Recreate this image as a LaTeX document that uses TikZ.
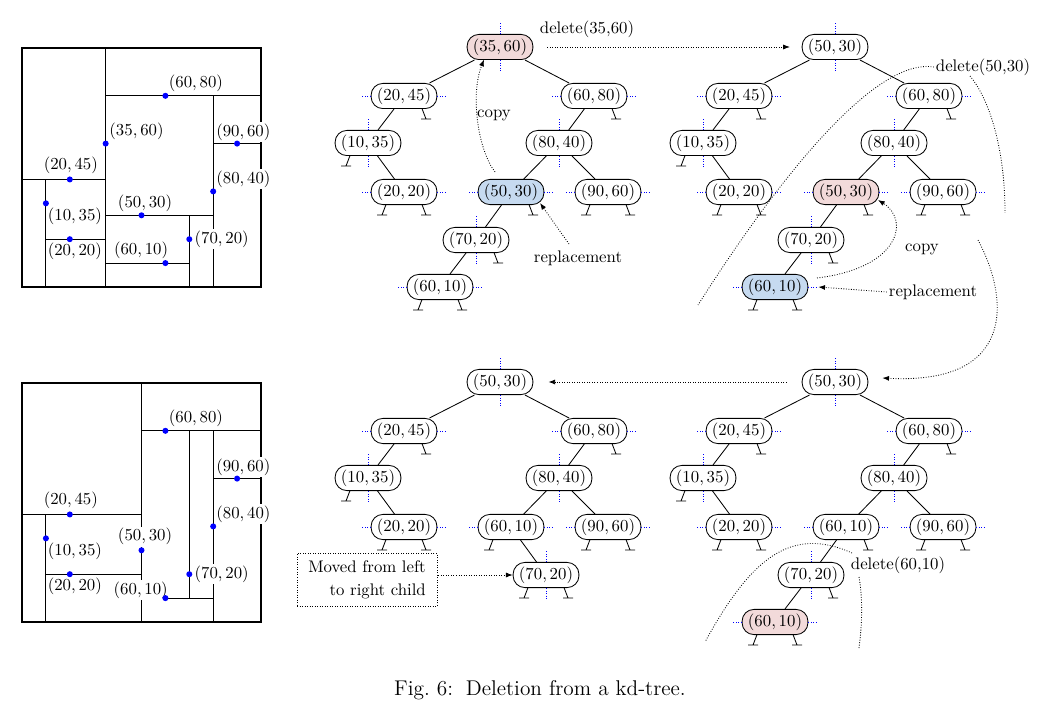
\documentclass[tikz,border=0pt]{standalone}
\usetikzlibrary{arrows.meta}
\definecolor{delpink}{RGB}{242,218,218}
\definecolor{repblue}{RGB}{198,218,240}
\tikzset{
 tn/.style={draw, line width=0.5pt, rounded corners=7pt, inner xsep=3.5pt, inner ysep=2.5pt, minimum height=15pt, fill=white},
 delnode/.style={tn, fill=delpink},
 repnode/.style={tn, fill=repblue},
 tedge/.style={line width=0.5pt},
 spl/.style={blue, densely dotted, line width=0.5pt},
 ann/.style={densely dotted, line width=0.5pt},
 annarr/.style={ann, -{Latex[length=4pt,width=3pt]}},
 txt/.style={inner sep=1pt},
 plab/.style={fill=white, inner xsep=0pt, inner ysep=1pt},
 pline/.style={line width=0.5pt},
 pframe/.style={line width=1.2pt},
 pdot/.style={fill=blue},
}
\newcommand\splitV[1]{\draw[spl] (#1.north) -- ++(0,-12) (#1.south) -- ++(0,12);}
\newcommand\splitH[1]{\draw[spl] (#1.west) -- ++(-9,0) (#1.east) -- ++(9,0);}
\newcommand\legL[1]{\draw[tedge] ([shift={(-18,12.6)}]#1.center) -- ([shift={(-22,23)}]#1.center) ([shift={(-27,23)}]#1.center) -- ([shift={(-17,23)}]#1.center);}
\newcommand\legR[1]{\draw[tedge] ([shift={(18,12.6)}]#1.center) -- ([shift={(22,23)}]#1.center) ([shift={(17,23)}]#1.center) -- ([shift={(27,23)}]#1.center);}
% #1 prefix, #2 x, #3 y, #4 root text, #5 root style, #6 f text, #7 f style, #8 i style
\newcommand\kdtree[8]{%
\begin{scope}[shift={(#2,#3)}]
 \node[#5] (#1r) at (0,0) {$#4$};
 \node[tn] (#1a) at (-96,49) {$(20,45)$};
 \node[tn] (#1b) at (94,49) {$(60,80)$};
 \node[tn] (#1c) at (-132,96) {$(10,35)$};
 \node[tn] (#1d) at (59,96) {$(80,40)$};
 \node[tn] (#1e) at (-96,145) {$(20,20)$};
 \node[#7] (#1f) at (11,145) {$#6$};
 \node[tn] (#1g) at (108,145) {$(90,60)$};
 \node[tn] (#1h) at (-24,193) {$(70,20)$};
 \node[#8] (#1i) at (-60,240) {$(60,10)$};
\end{scope}
\draw[tedge] (#1r)--(#1a) (#1r)--(#1b) (#1a)--(#1c) (#1c)--(#1e) (#1b)--(#1d) (#1d)--(#1f) (#1d)--(#1g) (#1f)--(#1h) (#1h)--(#1i);
\splitV{#1r}\splitV{#1c}\splitV{#1d}\splitV{#1h}
\splitH{#1a}\splitH{#1b}\splitH{#1e}\splitH{#1f}\splitH{#1g}\splitH{#1i}
\legR{#1a}\legR{#1b}\legL{#1c}\legL{#1e}\legR{#1e}\legR{#1f}\legL{#1g}\legR{#1g}\legR{#1h}\legL{#1i}\legR{#1i}
}
\begin{document}
\begin{tikzpicture}[x=0.596pt,y=-0.596pt]
\useasboundingbox (0,0) rectangle (1044,710);

% ---------- top partition ----------
\begin{scope}[shift={(22,287)}, x=1.4244pt, y=1.4244pt]
 \draw[pline] (35,0) -- (35,100) (0,45) -- (35,45) (10,0) -- (10,45) (10,20) -- (35,20)
   (35,80) -- (100,80) (80,0) -- (80,80) (80,60) -- (100,60) (35,30) -- (80,30)
   (70,0) -- (70,30) (35,10) -- (70,10);
 \draw[pframe] (0,0) rectangle (100,100);
 \node[plab] (pa1) at ([shift={(18.4pt,7.2pt)}]35,60) {$(35,60)$};
 \node[plab] (pa2) at ([shift={(0.6pt,8.6pt)}]20,45) {$(20,45)$};
 \node[plab] (pa3) at ([shift={(18.2pt,7.5pt)}]60,80) {$(60,80)$};
 \node[plab] (pa4) at ([shift={(17.3pt,-8pt)}]10,35) {$(10,35)$};
 \node[plab] (pa5) at ([shift={(18pt,7.2pt)}]80,40) {$(80,40)$};
 \node[plab] (pa6) at ([shift={(3pt,-7.5pt)}]20,20) {$(20,20)$};
 \node[plab] (pa7) at ([shift={(2.1pt,7.4pt)}]50,30) {$(50,30)$};
 \node[plab] (pa8) at ([shift={(3.7pt,7pt)}]90,60) {$(90,60)$};
 \node[plab] (pa9) at ([shift={(-14.5pt,7.8pt)}]60,10) {$(60,10)$};
 \node[plab] (pa10) at ([shift={(19.3pt,0pt)}]70,20) {$(70,20)$};
 \foreach \p in {(35,60),(20,45),(60,80),(10,35),(80,40),(20,20),(50,30),(90,60),(60,10),(70,20)}
   \fill[pdot] \p circle[radius=1.8pt];
\end{scope}

% ---------- bottom partition ----------
\begin{scope}[shift={(22,622)}, x=1.4244pt, y=1.4244pt]
 \draw[pline] (50,0) -- (50,100) (0,45) -- (50,45) (10,0) -- (10,45) (10,20) -- (50,20)
   (50,80) -- (100,80) (80,0) -- (80,80) (80,60) -- (100,60) (50,10) -- (80,10)
   (70,10) -- (70,80);
 \draw[pframe] (0,0) rectangle (100,100);
 \node[plab] (pb2) at ([shift={(0.6pt,8.6pt)}]20,45) {$(20,45)$};
 \node[plab] (pb3) at ([shift={(18.2pt,7.5pt)}]60,80) {$(60,80)$};
 \node[plab] (pb4) at ([shift={(17.3pt,-8pt)}]10,35) {$(10,35)$};
 \node[plab] (pb5) at ([shift={(18pt,7.2pt)}]80,40) {$(80,40)$};
 \node[plab] (pb6) at ([shift={(3pt,-7.5pt)}]20,20) {$(20,20)$};
 \node[plab] (pb7) at ([shift={(2.1pt,8.1pt)}]50,30) {$(50,30)$};
 \node[plab] (pb8) at ([shift={(3.7pt,7pt)}]90,60) {$(90,60)$};
 \node[plab] (pb9) at ([shift={(-14.7pt,4.8pt)}]60,10) {$(60,10)$};
 \node[plab] (pb10) at ([shift={(19.3pt,0pt)}]70,20) {$(70,20)$};
 \foreach \p in {(20,45),(60,80),(10,35),(80,40),(20,20),(50,30),(90,60),(60,10),(70,20)}
   \fill[pdot] \p circle[radius=1.8pt];
\end{scope}

% ---------- trees ----------
\kdtree{ta}{500}{47}{(35,60)}{delnode}{(50,30)}{repnode}{tn}
\kdtree{tb}{835}{47}{(50,30)}{tn}{(50,30)}{delnode}{repnode}
\kdtree{td}{835}{382}{(50,30)}{tn}{(60,10)}{tn}{delnode}

% bottom-left tree
\begin{scope}[shift={(500,382)}]
 \node[tn] (tcr) at (0,0) {$(50,30)$};
 \node[tn] (tca) at (-96,49) {$(20,45)$};
 \node[tn] (tcb) at (94,49) {$(60,80)$};
 \node[tn] (tcc) at (-132,96) {$(10,35)$};
 \node[tn] (tcd) at (59,96) {$(80,40)$};
 \node[tn] (tce) at (-96,145) {$(20,20)$};
 \node[tn] (tcf) at (11,145) {$(60,10)$};
 \node[tn] (tcg) at (108,145) {$(90,60)$};
 \node[tn] (tch) at (46,193) {$(70,20)$};
\end{scope}
\draw[tedge] (tcr)--(tca) (tcr)--(tcb) (tca)--(tcc) (tcc)--(tce) (tcb)--(tcd) (tcd)--(tcf) (tcd)--(tcg) (tcf)--(tch);
\splitV{tcr}\splitV{tcc}\splitV{tcd}\splitV{tch}
\splitH{tca}\splitH{tcb}\splitH{tce}\splitH{tcf}\splitH{tcg}
\legR{tca}\legR{tcb}\legL{tcc}\legL{tce}\legR{tce}\legL{tcf}\legL{tcg}\legR{tcg}\legL{tch}\legR{tch}

% ---------- annotations top-left ----------
\node[txt] (dela) at (587,29) {delete(35,60)};
\draw[annarr, shorten <=8.3pt, shorten >=7pt] (tar) -- (tbr);
\node[txt] (copya) at (494,115) {copy};
\draw[annarr] ([shift={(-16,-20)}]taf.center) .. controls (478,150) and (470,95) .. ([shift={(-16,12.6)}]tar.center);
\node[txt] (repa) at (578,258) {replacement};
\draw[annarr] ([shift={(-9,-14)}]repa.center) -- ([shift={(29,11)}]taf.center);

% ---------- annotations top-right ----------
\node[txt] (delb) at (983,67) {delete(50,30)};
\coordinate (cutb1) at (698,305);
\coordinate (cutb2s) at (970,76);
\coordinate (cutb2e) at (1005,213);
\coordinate (arrbs) at (978,240);
\draw[ann] (delb.west) .. controls (880,58) and (790,160) .. (cutb1);
\draw[ann] (cutb2s) .. controls (990,100) and (1005,150) .. (cutb2e);
\draw[annarr] (arrbs) .. controls (1010,300) and (1015,385) .. ([shift={(14,-4)}]tdr.east);
\node[txt] (copyb) at (922,249) {copy};
\draw[annarr] ([shift={(42,-9)}]tbi.center) .. controls (900,268) and (910,220) .. ([shift={(32,8)}]tbf.center);
\node[txt] (repb) at (933,292) {replacement};
\draw[annarr] (repb.west) -- ([shift={(10,0)}]tbi.east);

% ---------- annotations bottom-left ----------
\draw[annarr, shorten <=9pt, shorten >=9pt] (tdr) -- (tcr);
\node[draw, densely dotted, line width=0.5pt, align=right, minimum width=83.4pt, minimum height=32pt, inner sep=2pt] (movebox) at (367,580) {Moved from left\\[1.5pt]to right child};
\draw[annarr] ([shift={(1,0)}]movebox.east |- tch.center) -- (tch.west);

% ---------- annotations bottom-right ----------
\node[txt] (deld) at (898,565) {delete(60,10)};
\coordinate (cutd1s) at (852,553);
\coordinate (cutd1e) at (705,642);
\coordinate (cutd2s) at (859,577);
\coordinate (cutd2e) at (859,648);
\draw[ann] (cutd1s) .. controls (790,525) and (750,560) .. (cutd1e);
\draw[ann] (cutd2s) .. controls (863,600) and (862,625) .. (cutd2e);

% ---------- caption ----------
\node[txt, font=\fontsize{12.7}{15}\selectfont] (caption) at (540,690) {Fig.~6:\hspace{0.6em}Deletion from a kd-tree.};
\end{tikzpicture}
\end{document}
